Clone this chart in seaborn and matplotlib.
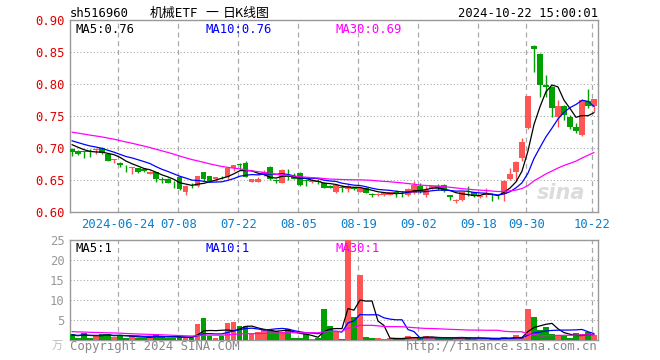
import matplotlib
matplotlib.use("Agg")
import matplotlib.pyplot as plt
import seaborn as sns
import pandas as pd

# daily bars for 516960, 2024-06-12 .. 2024-10-22
dates = pd.bdate_range("2024-06-12", "2024-10-22")
holidays = ["2024-09-16", "2024-09-17", "2024-10-01", "2024-10-02", "2024-10-03",
            "2024-10-04", "2024-10-07"]
dates = dates[~dates.isin(pd.to_datetime(holidays))]

opens = [0.698, 0.696, 0.695, 0.695, 0.697, 0.700, 0.690, 0.681, 0.677, 0.671,
         0.669, 0.668, 0.667, 0.660, 0.662, 0.652, 0.652, 0.646, 0.654, 0.632,
         0.641, 0.640, 0.662, 0.656, 0.651, 0.655, 0.655, 0.668, 0.675, 0.677,
         0.647, 0.647, 0.658, 0.671, 0.650, 0.646, 0.656, 0.656, 0.661, 0.650,
         0.647, 0.648, 0.646, 0.641, 0.632, 0.639, 0.636, 0.638, 0.632, 0.637,
         0.628, 0.627, 0.626, 0.627, 0.632, 0.630, 0.626, 0.630, 0.641, 0.626,
         0.637, 0.641, 0.642, 0.626, 0.617, 0.618, 0.632, 0.631, 0.623, 0.626,
         0.627, 0.624, 0.628, 0.651, 0.662, 0.684, 0.731, 0.860, 0.847, 0.799,
         0.795, 0.748, 0.766, 0.748, 0.733, 0.720, 0.774, 0.765]
highs = [0.700, 0.697, 0.696, 0.698, 0.700, 0.701, 0.691, 0.683, 0.678, 0.673,
         0.671, 0.669, 0.668, 0.664, 0.663, 0.654, 0.653, 0.648, 0.656, 0.642,
         0.645, 0.657, 0.663, 0.657, 0.655, 0.656, 0.670, 0.674, 0.677, 0.679,
         0.652, 0.654, 0.665, 0.672, 0.651, 0.667, 0.667, 0.661, 0.662, 0.651,
         0.651, 0.651, 0.647, 0.642, 0.643, 0.642, 0.643, 0.639, 0.638, 0.639,
         0.629, 0.630, 0.631, 0.632, 0.634, 0.633, 0.637, 0.649, 0.646, 0.640,
         0.641, 0.643, 0.643, 0.627, 0.621, 0.632, 0.640, 0.632, 0.626, 0.638,
         0.629, 0.626, 0.650, 0.668, 0.680, 0.716, 0.782, 0.861, 0.849, 0.814,
         0.797, 0.775, 0.767, 0.752, 0.739, 0.776, 0.792, 0.777]
lows = [0.687, 0.689, 0.684, 0.686, 0.690, 0.691, 0.679, 0.676, 0.671, 0.662,
        0.659, 0.661, 0.662, 0.659, 0.647, 0.645, 0.645, 0.638, 0.634, 0.627,
        0.637, 0.639, 0.649, 0.648, 0.649, 0.652, 0.651, 0.664, 0.666, 0.654,
        0.647, 0.647, 0.657, 0.650, 0.645, 0.645, 0.650, 0.651, 0.640, 0.641,
        0.646, 0.643, 0.637, 0.637, 0.630, 0.632, 0.632, 0.634, 0.631, 0.629,
        0.624, 0.625, 0.625, 0.626, 0.624, 0.624, 0.625, 0.628, 0.630, 0.624,
        0.636, 0.634, 0.631, 0.619, 0.614, 0.617, 0.625, 0.624, 0.622, 0.623,
        0.617, 0.621, 0.617, 0.650, 0.649, 0.679, 0.730, 0.819, 0.780, 0.780,
        0.748, 0.733, 0.744, 0.729, 0.724, 0.719, 0.762, 0.757]
closes = [0.693, 0.690, 0.693, 0.694, 0.699, 0.692, 0.680, 0.683, 0.673, 0.670,
          0.671, 0.662, 0.664, 0.663, 0.651, 0.650, 0.646, 0.645, 0.636, 0.641,
          0.640, 0.656, 0.651, 0.649, 0.654, 0.654, 0.669, 0.673, 0.673, 0.655,
          0.651, 0.651, 0.663, 0.651, 0.649, 0.665, 0.655, 0.652, 0.642, 0.649,
          0.650, 0.647, 0.638, 0.638, 0.642, 0.637, 0.640, 0.636, 0.637, 0.630,
          0.627, 0.628, 0.630, 0.631, 0.628, 0.629, 0.636, 0.642, 0.633, 0.635,
          0.640, 0.637, 0.633, 0.623, 0.618, 0.631, 0.631, 0.625, 0.625, 0.630,
          0.626, 0.623, 0.649, 0.659, 0.678, 0.710, 0.781, 0.855, 0.798, 0.796,
          0.762, 0.766, 0.752, 0.733, 0.727, 0.775, 0.765, 0.776]
# volume in 万手
volumes = [1.5, 0.6, 1.8, 0.6, 1.0, 1.4, 1.6, 0.8, 1.0, 0.6,
           0.9, 0.6, 0.6, 0.7, 1.5, 0.75, 0.6, 0.6, 0.7, 0.7,
           0.6, 4.0, 5.5, 1.1, 0.5, 1.1, 4.25, 4.5, 3.6, 3.6,
           1.4, 2.0, 2.75, 2.5, 2.25, 2.1, 2.7, 0.6, 0.6, 1.4,
           0.35, 0.5, 7.75, 3.6, 2.1, 0.3, 25.5, 5.8, 16.25, 0.75,
           0.5, 0.4, 0.25, 0.4, 0.4, 0.4, 1.0, 0.8, 0.4, 1.0,
           0.6, 0.4, 0.5, 0.4, 0.5, 0.75, 0.4, 0.35, 0.35, 0.35,
           0.3, 0.3, 0.75, 0.4, 1.25, 0.4, 7.75, 5.75, 2.5, 3.25,
           1.5, 1.0, 1.0, 0.5, 1.7, 1.4, 2.1, 1.2]

# sessions before the window, only needed to seed the moving averages
prior_close = [0.735, 0.738, 0.742, 0.740, 0.737, 0.733, 0.736, 0.739, 0.734, 0.731,
               0.728, 0.730, 0.733, 0.729, 0.726, 0.722, 0.725, 0.727, 0.724, 0.720,
               0.718, 0.721, 0.719, 0.716, 0.713, 0.710, 0.712, 0.707, 0.704]
prior_vol = [2.8, 3.1, 2.4, 2.2, 2.9, 2.6, 2.0, 2.3, 3.4, 2.7,
             2.5, 2.1, 2.4, 2.9, 2.2, 2.6, 2.3, 2.5, 2.8, 2.0,
             1.3, 1.1, 1.4, 1.0, 1.2, 1.5, 0.9, 1.2, 1.2]

tick_idx = [8, 18, 28, 38, 48, 58, 68, 76, 87]
tick_lbl = ["2024-06-24", "07-08", "07-22", "08-05", "08-19", "09-02", "09-18", "09-30", "10-22"]

RED = "#ff5555"
GREEN = "#00a000"
GRID = "#aaaaaa"

df = pd.DataFrame({"date": dates, "open": opens, "high": highs, "low": lows,
                   "close": closes, "vol": volumes})
df["idx"] = range(len(df))
df["dir"] = ["up" if c >= o else "down" for o, c in zip(df["open"], df["close"])]
df["col"] = [RED if d == "up" else GREEN for d in df["dir"]]

n0 = len(prior_close)
c_all = pd.Series(prior_close + closes)
v_all = pd.Series(prior_vol + volumes)
for w in (5, 10, 30):
    df[f"ma{w}"] = c_all.rolling(w).mean().iloc[n0:].values
    df[f"vma{w}"] = v_all.rolling(w).mean().iloc[n0:].values

sns.set_theme(style="white")
plt.rcParams["font.family"] = ["DejaVu Sans Mono", "Noto Sans CJK SC"]
plt.rcParams["axes.edgecolor"] = "#999999"

W, H = 660, 360
fig = plt.figure(figsize=(W / 100, H / 100), dpi=100)
fig.patch.set_facecolor("white")


def px_axes(x0, y0, x1, y1):
    return fig.add_axes([x0 / W, 1 - y1 / H, (x1 - x0) / W, (y1 - y0) / H])


ax = px_axes(70, 20, 598, 212)
axv = px_axes(70, 240, 598, 340)
XL = (-0.33, 87.67)

# ---- candles ----
body_lo = df[["open", "close"]].min(axis=1)
body_h = (df["close"] - df["open"]).abs().clip(lower=0.0008)
ax.vlines(df["idx"], df["low"], df["high"], colors=df["col"], lw=1.0, zorder=3)
ax.bar(df["idx"], body_h, bottom=body_lo, width=0.84, color=df["col"], linewidth=0, zorder=4)

for w, col in ((5, "black"), (10, "#0000ff"), (30, "#ff00ff")):
    sns.lineplot(x=df["idx"], y=df[f"ma{w}"], ax=ax, color=col, lw=0.9, zorder=5)

ax.set_xlim(*XL)
ax.set_ylim(0.60, 0.90)
ax.set_yticks([0.60, 0.65, 0.70, 0.75, 0.80, 0.85, 0.90])
ax.set_yticklabels([f"{v:.2f}" for v in ax.get_yticks()], color="#e00000", fontsize=8.8)
ax.set_xticks([i - 0.28 for i in tick_idx])
ax.set_xticklabels(tick_lbl, color="#0a80cc", fontsize=8.8)
ax.tick_params(length=0, pad=4)
ax.set_xlabel("")
ax.set_ylabel("")
ax.grid(axis="y", color=GRID, linestyle=(0, (1, 2)), lw=0.8)
ax.grid(axis="x", color=GRID, linestyle=(0, (4, 3)), lw=0.9)

ax.text(0.01, 0.985, "MA5:0.76", transform=ax.transAxes, va="top", fontsize=8.8, color="black")
ax.text(0.256, 0.985, "MA10:0.76", transform=ax.transAxes, va="top", fontsize=8.8, color="#0000ff")
ax.text(0.502, 0.985, "MA30:0.69", transform=ax.transAxes, va="top", fontsize=8.8, color="#ff00ff")
ax.text(0.93, 0.07, "sina", transform=ax.transAxes, fontsize=15, color="#dcdcdc",
        fontstyle="italic", fontweight="bold", family="DejaVu Sans", ha="center")

# ---- volume ----
axv.bar(df["idx"], df["vol"], width=0.84, color=df["col"], linewidth=0, zorder=3)
for w, col in ((5, "black"), (10, "#0000ff"), (30, "#ff00ff")):
    sns.lineplot(x=df["idx"], y=df[f"vma{w}"], ax=axv, color=col, lw=0.9, zorder=5)

axv.set_xlim(*XL)
axv.set_ylim(0, 25)
axv.set_yticks([5, 10, 15, 20, 25])
axv.set_yticklabels(["5", "10", "15", "20", "25"], color="#999999", fontsize=8.8)
axv.set_xticks([i - 0.28 for i in tick_idx])
axv.set_xticklabels([])
axv.tick_params(length=0, pad=4)
axv.set_xlabel("")
axv.set_ylabel("")
axv.grid(axis="y", color=GRID, linestyle=(0, (1, 2)), lw=0.8)
axv.grid(axis="x", color=GRID, linestyle=(0, (4, 3)), lw=0.9)

axv.text(0.01, 0.975, "MA5:1", transform=axv.transAxes, va="top", fontsize=8.8, color="black")
axv.text(0.256, 0.975, "MA10:1", transform=axv.transAxes, va="top", fontsize=8.8, color="#0000ff")
axv.text(0.502, 0.975, "MA30:1", transform=axv.transAxes, va="top", fontsize=8.8, color="#ff00ff")

for a in (ax, axv):
    for s in a.spines.values():
        s.set_color("#999999")
        s.set_linewidth(1.0)

# ---- header / footer ----
cjk = ["Noto Sans CJK SC", "DejaVu Sans"]
fig.text(70 / W, 1 - 17 / H, "sh516960", fontsize=8.8, color="black")
fig.text(150 / W, 1 - 17 / H, "机械ETF", fontsize=9.3, color="black", family=cjk)
fig.text(212 / W, 1 - 17 / H, "一", fontsize=9.3, color="black", ha="center", family=cjk)
fig.text(270 / W, 1 - 17 / H, "日K线图", fontsize=9.3, color="black", ha="right", family=cjk)
fig.text(598 / W, 1 - 17 / H, "2024-10-22 15:00:01", fontsize=8.8, color="black", ha="right")
fig.text(70 / W, 1 - 350 / H, "Copyright 2024 SINA.COM", fontsize=8.8, color="#888888")
fig.text(598 / W, 1 - 350 / H, "http://finance.sina.com.cn", fontsize=8.8, color="#888888", ha="right")
fig.text(63 / W, 1 - 349 / H, "万", fontsize=8, color="#bbbbbb", ha="right", family=cjk)

fig.savefig("out.png", dpi=100, facecolor="white")
